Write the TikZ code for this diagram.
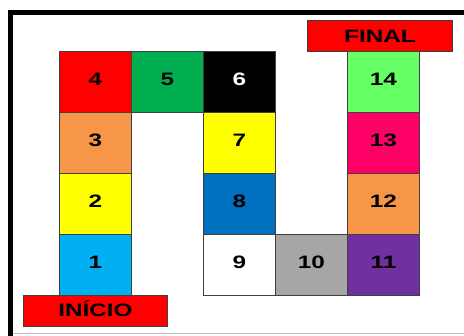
\documentclass[tikz,border=0pt]{standalone}
\usepackage{fontspec}
\usepackage{graphicx}
\setmainfont{Liberation Sans}
\definecolor{cRed}{HTML}{FF0000}
\definecolor{cGreen}{HTML}{00B050}
\definecolor{cLight}{HTML}{66FF66}
\definecolor{cOrange}{HTML}{F79646}
\definecolor{cYellow}{HTML}{FFFF00}
\definecolor{cPink}{HTML}{FF0066}
\definecolor{cBlue}{HTML}{0070C0}
\definecolor{cSky}{HTML}{00B0F0}
\definecolor{cGray}{HTML}{A6A6A6}
\definecolor{cPurple}{HTML}{7030A0}
\newcommand{\lbl}[1]{\scalebox{1.35}[1]{\fontsize{18}{18}\selectfont\bfseries #1}}
\tikzset{
  cellbox/.style={draw=black!75, line width=0.9pt, minimum width=72pt, minimum height=61pt, inner sep=0pt, outer sep=0pt},
  bannerbox/.style={draw=black!75, line width=0.9pt, fill=cRed, inner sep=0pt, outer sep=0pt},
  num/.style={anchor=base, inner sep=0pt}
}
\begin{document}
\begin{tikzpicture}[x=1pt,y=-1pt]
\useasboundingbox (0,0) rectangle (464,336);
% frame
\draw[line width=5.5pt] (10.3,336) -- (10.3,12.3) -- (464,12.3);
\draw[black!25, line width=1pt] (13,334) -- (464,334);
% cells: centers x = 95.5 + 72k, y = 82 + 61k
\node[cellbox, fill=cRed]    (c4)  at (95.5,82)   {};
\node[cellbox, fill=cGreen]  (c5)  at (167.5,82)  {};
\node[cellbox, fill=black]   (c6)  at (239.5,82)  {};
\node[cellbox, fill=cLight]  (c14) at (383.5,82)  {};
\node[cellbox, fill=cOrange] (c3)  at (95.5,143)  {};
\node[cellbox, fill=cYellow] (c7)  at (239.5,143) {};
\node[cellbox, fill=cPink]   (c13) at (383.5,143) {};
\node[cellbox, fill=cYellow] (c2)  at (95.5,204)  {};
\node[cellbox, fill=cBlue]   (c8)  at (239.5,204) {};
\node[cellbox, fill=cOrange] (c12) at (383.5,204) {};
\node[cellbox, fill=cSky]    (c1)  at (95.5,265)  {};
\node[cellbox, fill=white]   (c9)  at (239.5,265) {};
\node[cellbox, fill=cGray]   (c10) at (311.5,265) {};
\node[cellbox, fill=cPurple] (c11) at (383.5,265) {};
% banners
\node[bannerbox, minimum width=145pt, minimum height=31pt] (fin) at (380,36.3) {};
\node[bannerbox, minimum width=144.5pt, minimum height=31.5pt] (ini) at (95.5,310.8) {};
% labels
\node[num] at ([yshift=-3.5pt]c4.center) {\lbl{4}};
\node[num] at ([yshift=-3.5pt]c5.center) {\lbl{5}};
\node[num, text=white] at ([yshift=-3.5pt]c6.center) {\lbl{6}};
\node[num] at ([yshift=-3.5pt]c14.center) {\lbl{14}};
\node[num] at ([yshift=-3.5pt]c3.center) {\lbl{3}};
\node[num] at ([yshift=-3.5pt]c7.center) {\lbl{7}};
\node[num] at ([yshift=-3.5pt]c13.center) {\lbl{13}};
\node[num] at ([yshift=-3.5pt]c2.center) {\lbl{2}};
\node[num] at ([yshift=-3.5pt]c8.center) {\lbl{8}};
\node[num] at ([yshift=-3.5pt]c12.center) {\lbl{12}};
\node[num] at ([yshift=-3.5pt]c1.center) {\lbl{1}};
\node[num] at ([yshift=-3.5pt]c9.center) {\lbl{9}};
\node[num] at ([yshift=-3.5pt]c10.center) {\lbl{10}};
\node[num] at ([yshift=-3.5pt]c11.center) {\lbl{11}};
\node[num] at ([yshift=-5.8pt]fin.center) {\lbl{FINAL}};
\node[num] at ([yshift=-6pt]ini.center) {\lbl{INÍCIO}};
\end{tikzpicture}
\end{document}
